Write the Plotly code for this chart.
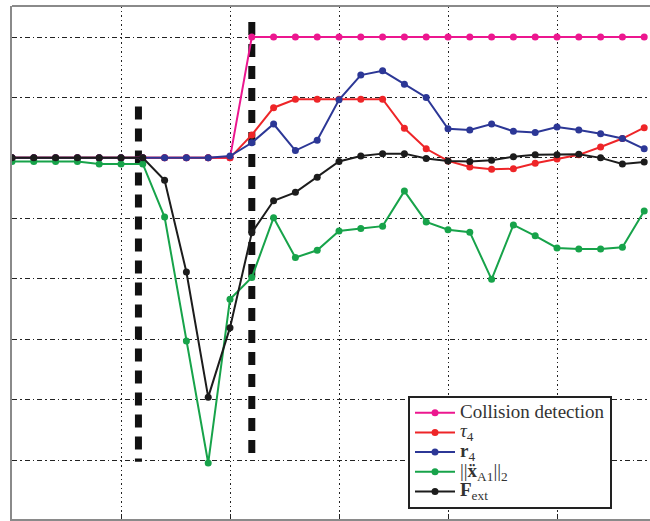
import plotly.graph_objects as go

# sample index (grid every 5 samples)
samples = [0, 1, 2, 3, 4, 5, 6, 7, 8, 9, 10, 11, 12, 13, 14,
           15, 16, 17, 18, 19, 20, 21, 22, 23, 24, 25, 26, 27, 28, 29]

collision = [0, 0, 0, 0, 0, 0, 0, 0, 0, 0, 0, 2, 2, 2, 2,
             2, 2, 2, 2, 2, 2, 2, 2, 2, 2, 2, 2, 2, 2, 2]

tau4 = [0, 0, 0, 0, 0, 0, 0, 0, 0, 0, 0, 0.38, 0.83, 0.97, 0.97,
        0.97, 0.97, 0.97, 0.49, 0.15, -0.05, -0.15, -0.19, -0.18, -0.09,
        -0.02, 0.05, 0.18, 0.32, 0.50]

r4 = [0, 0, 0, 0, 0, 0, 0, 0, 0, 0, 0.03, 0.25, 0.56, 0.12, 0.29,
      0.96, 1.37, 1.44, 1.22, 1.00, 0.48, 0.46, 0.56, 0.44, 0.42,
      0.51, 0.46, 0.40, 0.32, 0.15]

xdd_norm = [-0.06, -0.06, -0.06, -0.06, -0.10, -0.10, -0.10, -0.98, -3.03, -5.05,
            -2.34, -1.98, -0.99, -1.65, -1.53, -1.21, -1.17, -1.13, -0.55, -1.06,
            -1.19, -1.23, -2.01, -1.11, -1.29, -1.49, -1.51, -1.51, -1.48, -0.88]

f_ext = [0, 0, 0, 0, 0, 0, 0, -0.37, -1.89, -3.96, -2.81, -1.24, -0.71, -0.57, -0.32,
         -0.06, 0.03, 0.07, 0.07, -0.01, -0.05, -0.06, -0.04, 0.02, 0.05,
         0.05, 0.06, 0.00, -0.10, -0.07]

# event markers (thick dashed verticals)
event_x = [5.8, 11.0]
event_top = [0.85, 2.25]
event_bottom = [-5.03, -5.03]

labels = [
    "Collision detection",
    "<i>τ</i><sub>4</sub>",
    "<b>r</b><sub>4</sub>",
    "||<b>ẍ</b><sub>A1</sub>||<sub>2</sub>",
    "<b>F</b><sub>ext</sub>",
]
colors = ["#EC178F", "#EE2528", "#2C3796", "#17A34A", "#1C1C1C"]
values = [collision, tau4, r4, xdd_norm, f_ext]

fig = go.Figure()

for xe, yt, yb in zip(event_x, event_top, event_bottom):
    fig.add_trace(go.Scatter(
        x=[xe, xe], y=[yt, yb], mode="lines",
        line=dict(color="#111111", width=7, dash="13px,9px"),
        showlegend=False, hoverinfo="skip"))

for name, vals, color in zip(labels, values, colors):
    fig.add_trace(go.Scatter(
        x=samples, y=vals, mode="lines+markers",
        # legend rows stay compact (small base font) while the label itself is large
        name='<span style="font-size:19px">' + name + "</span>",
        line=dict(color=color, width=2),
        marker=dict(color=color, size=7, symbol="circle")))

px_per_sample = 21.8
plot_w = 650 - 12
plot_h = 521 - 6 - 2
y_top = 2.513
y_bot = y_top - plot_h / 60.43

fig.update_layout(
    width=650, height=521,
    margin=dict(l=12, r=0, t=6, b=2, autoexpand=False),
    paper_bgcolor="white", plot_bgcolor="white",
    font=dict(family="Liberation Serif, Times New Roman, serif", color="#222222"),
    xaxis=dict(
        range=[0, plot_w / px_per_sample],
        tickvals=[0, 5, 10, 15, 20, 25], showticklabels=False,
        ticks="inside", ticklen=5, tickcolor="#222222",
        showgrid=True, gridcolor="#222222", gridwidth=1, griddash="1.5px,3px",
        zeroline=False, showline=True, linecolor="#8a8a8a", linewidth=2,
    ),
    yaxis=dict(
        range=[y_bot, y_top],
        tickvals=[-5, -4, -3, -2, -1, 0, 1, 2], showticklabels=False,
        ticks="inside", ticklen=5, tickcolor="#222222",
        showgrid=True, gridcolor="#222222", gridwidth=1, griddash="5px,3px,1.5px,3px",
        zeroline=False, showline=True, linecolor="#8a8a8a", linewidth=2,
    ),
    legend=dict(
        x=(408 - 12) / plot_w, y=(519 - 509) / plot_h,
        xanchor="left", yanchor="bottom",
        bgcolor="white", bordercolor="#222222", borderwidth=2,
        font=dict(family="Liberation Serif, Times New Roman, serif", size=12.8, color="#333333"),
        itemwidth=40, tracegroupgap=0,
    ),
    showlegend=True,
)

# top frame edge
fig.add_shape(type="line", xref="paper", yref="paper", x0=0, x1=1, y0=1, y1=1,
              line=dict(color="#8a8a8a", width=2))

fig.write_html("out.html")
